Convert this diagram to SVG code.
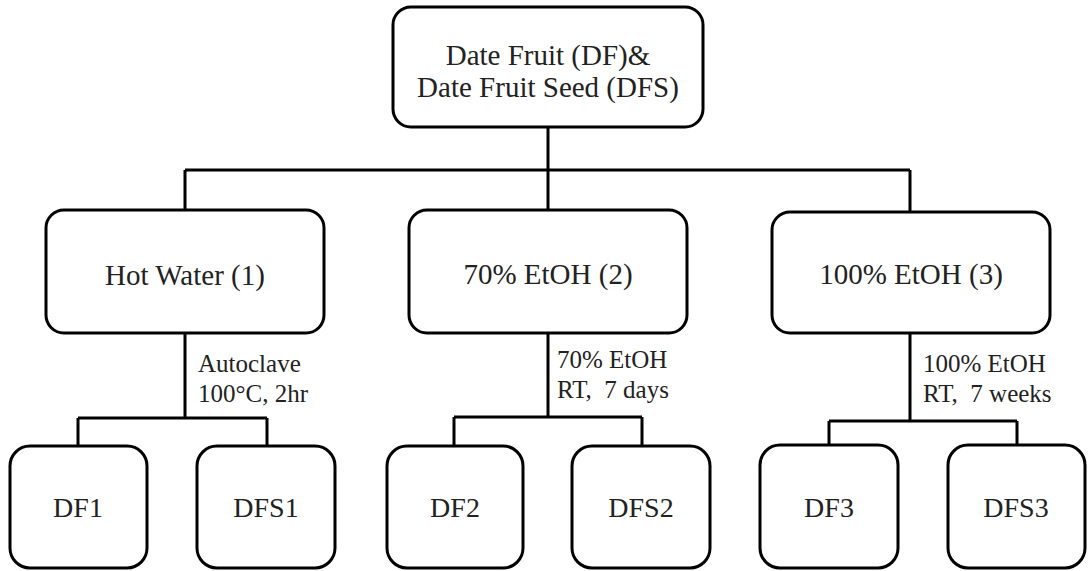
<svg xmlns="http://www.w3.org/2000/svg" width="1090" height="571" viewBox="0 0 1090 571">
<style>
.box{fill:#fff;stroke:#000;stroke-width:3}
.ln{fill:none;stroke:#000;stroke-width:3}
text{font-family:"Liberation Serif","Times New Roman",serif;fill:#222}
.big{font-size:29px;text-anchor:middle}
.sm{font-size:28px;text-anchor:middle}
.lbl{font-size:25px}
</style>
<rect width="1090" height="571" fill="#fff"/>
<g id="connectors">
<path class="ln" d="M548 127V170M185 170H910M185 170V210M548 170V210M910 170V212"/>
<path class="ln" d="M185 333V418M78 418H267M78 418V446M267 418V446"/>
<path class="ln" d="M548 333V417M454 417H642M454 417V446M642 417V446"/>
<path class="ln" d="M910 333V421M829 421H1017M829 421V445M1017 421V445"/>
<text class="lbl" x="198" y="372">Autoclave</text>
<text class="lbl" x="198" y="402">100°C, 2hr</text>
<text class="lbl" x="557" y="368">70% EtOH</text>
<text class="lbl" x="557" y="398">RT,&#160; 7 days</text>
<text class="lbl" x="923" y="372">100% EtOH</text>
<text class="lbl" x="923" y="402">RT,&#160; 7 weeks</text>
</g>
<g id="root">
<rect class="box" x="393" y="7" width="310" height="120" rx="18"/>
<text class="big" x="548" y="65">Date Fruit (DF)&amp;</text>
<text class="big" x="548" y="97">Date Fruit Seed (DFS)</text>
</g>
<g id="hotwater">
<rect class="box" x="46" y="210" width="278" height="123" rx="18"/>
<text class="big" x="185" y="285">Hot Water (1)</text>
</g>
<g id="etoh70">
<rect class="box" x="409" y="210" width="278" height="123" rx="18"/>
<text class="big" x="548" y="284">70% EtOH (2)</text>
</g>
<g id="etoh100">
<rect class="box" x="772" y="212" width="278" height="121" rx="18"/>
<text class="big" x="911" y="284">100% EtOH (3)</text>
</g>
<g id="df1">
<rect class="box" x="10" y="446" width="137" height="122" rx="20"/>
<text class="sm" x="78" y="517">DF1</text>
</g>
<g id="dfs1">
<rect class="box" x="197" y="446" width="138" height="122" rx="20"/>
<text class="sm" x="266" y="517">DFS1</text>
</g>
<g id="df2">
<rect class="box" x="387" y="446" width="136" height="122" rx="20"/>
<text class="sm" x="455" y="517">DF2</text>
</g>
<g id="dfs2">
<rect class="box" x="572" y="446" width="138" height="122" rx="20"/>
<text class="sm" x="641" y="517">DFS2</text>
</g>
<g id="df3">
<rect class="box" x="760" y="445" width="138" height="123" rx="20"/>
<text class="sm" x="829" y="517">DF3</text>
</g>
<g id="dfs3">
<rect class="box" x="948" y="445" width="137" height="123" rx="20"/>
<text class="sm" x="1016" y="517">DFS3</text>
</g>
</svg>
